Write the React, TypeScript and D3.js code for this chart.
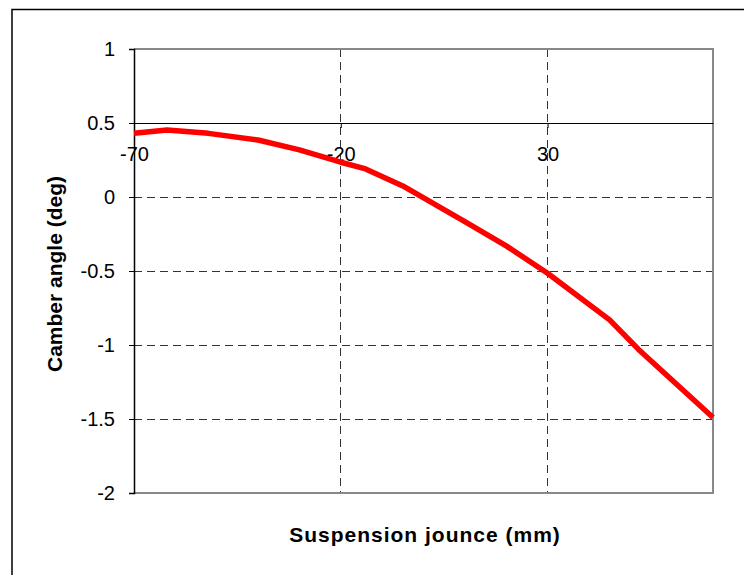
import * as d3 from "d3";
import { useRef, useEffect } from "react";

// Suspension jounce (mm) vs camber angle (deg)
const jounce = [-70, -62, -52, -40, -30, -20, -14, -5, 10, 20, 30, 45, 52, 70];
const camber = [0.43, 0.452, 0.43, 0.385, 0.318, 0.235, 0.19, 0.075, -0.167, -0.33, -0.515, -0.83, -1.03, -1.49];

const yTicks = [1, 0.5, 0, -0.5, -1, -1.5, -2];
const xTicks = [-70, -20, 30];
const xGrid = [-20, 30];
const yGrid = [0, -0.5, -1, -1.5];

const xTitle = "Suspension jounce (mm)";
const yTitle = "Camber angle (deg)";

const FONT = "'Liberation Sans', Arial, sans-serif";

const CamberChart = ({ width = 744, height = 575 }) => {
  const svgRef = useRef<SVGSVGElement | null>(null);

  useEffect(() => {
    if (!svgRef.current) return;
    const svg = d3.select(svgRef.current);
    svg.selectAll("*").remove();

    const left = 134, right = 713, top = 49, bottom = 493;

    const x = d3.scaleLinear().domain([-70, 70]).range([left, right]);
    const y = d3.scaleLinear().domain([-2, 1]).range([bottom, top]);

    // background + outer chart border (runs off right/bottom edge)
    svg.append("rect").attr("width", width).attr("height", height).attr("fill", "#fff");
    svg
      .append("rect")
      .attr("x", 12)
      .attr("y", 9.5)
      .attr("width", width + 50)
      .attr("height", height + 50)
      .attr("fill", "none")
      .attr("stroke", "#000")
      .attr("stroke-width", 1.5);

    // dashed grid
    svg
      .append("g")
      .selectAll("line")
      .data(yGrid)
      .join("line")
      .attr("x1", left)
      .attr("x2", right)
      .attr("y1", (d) => y(d))
      .attr("y2", (d) => y(d))
      .attr("stroke", "#333")
      .attr("stroke-width", 1)
      .attr("shape-rendering", "crispEdges")
      .attr("stroke-dasharray", "8,5");

    svg
      .append("g")
      .selectAll("line")
      .data(xGrid)
      .join("line")
      .attr("x1", (d) => x(d))
      .attr("x2", (d) => x(d))
      .attr("y1", top)
      .attr("y2", bottom)
      .attr("stroke", "#333")
      .attr("stroke-width", 1)
      .attr("shape-rendering", "crispEdges")
      .attr("stroke-dasharray", "8,5");

    // plot area border (grey on top/right/bottom)
    svg
      .append("path")
      .attr("d", `M${left},${top}H${right}V${bottom}H${left}`)
      .attr("fill", "none")
      .attr("stroke", "#888")
      .attr("stroke-width", 2);

    // y axis
    const yAxis = svg
      .append("g")
      .attr("transform", `translate(${left},0)`)
      .call(d3.axisLeft(y).tickValues(yTicks).tickSize(5).tickPadding(14).tickFormat((d) => String(d)));
    yAxis.select(".domain").attr("stroke", "#000").attr("stroke-width", 1.5);
    yAxis.selectAll(".tick line").attr("stroke", "#000");
    yAxis
      .selectAll(".tick text")
      .attr("font-family", FONT)
      .attr("font-size", 20)
      .attr("fill", "#000");

    // x axis sits at camber = 0.5
    const xAxis = svg
      .append("g")
      .attr("transform", `translate(0,${y(0.5)})`)
      .call(d3.axisBottom(x).tickValues(xTicks).tickSize(5).tickSizeOuter(0).tickPadding(19).tickFormat((d) => String(d)));
    xAxis.select(".domain").attr("stroke", "#000").attr("stroke-width", 1.2);
    xAxis.selectAll(".tick line").attr("stroke", "#000");
    xAxis
      .selectAll(".tick text")
      .attr("font-family", FONT)
      .attr("font-size", 20)
      .attr("fill", "#000");

    // curve
    const pts = jounce.map((j, i) => ({ j, c: camber[i] }));
    const line = d3
      .line<{ j: number; c: number }>()
      .x((d) => x(d.j))
      .y((d) => y(d.c));
    svg
      .append("path")
      .datum(pts)
      .attr("fill", "none")
      .attr("stroke", "#ff0000")
      .attr("stroke-width", 5.5)
      .attr("stroke-linejoin", "round")
      .attr("d", line);

    // titles
    svg
      .append("text")
      .attr("x", 425)
      .attr("y", 542)
      .attr("text-anchor", "middle")
      .attr("font-family", FONT)
      .attr("font-weight", "bold")
      .attr("font-size", 21)
      .attr("letter-spacing", 1)
      .text(xTitle);

    svg
      .append("text")
      .attr("transform", `translate(62,274) rotate(-90)`)
      .attr("text-anchor", "middle")
      .attr("font-family", FONT)
      .attr("font-weight", "bold")
      .attr("font-size", 21)
      .text(yTitle);
  }, [width, height]);

  return (
    <svg
      ref={svgRef}
      width={width}
      height={height}
      style={{ position: "absolute", left: 0, top: 0 }}
    ></svg>
  );
};

export default function App() {
  return <CamberChart />;
}
